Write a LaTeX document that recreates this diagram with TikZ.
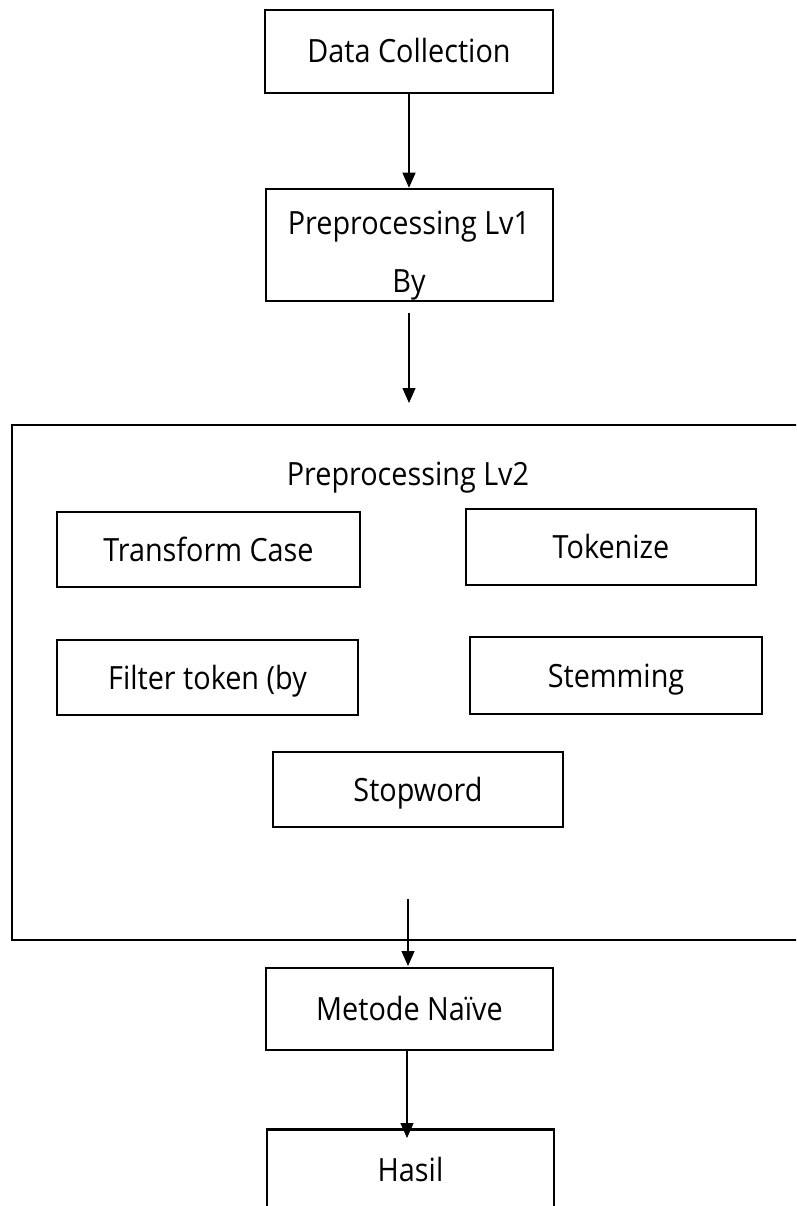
\documentclass[tikz,border=0pt]{standalone}
\usepackage{fontspec}
\setmainfont{Open Sans}[FakeStretch=0.9]
\usetikzlibrary{arrows.meta}
\begin{document}
\begin{tikzpicture}[x=1pt,y=-1pt,
  every node/.style={font=\fontsize{32}{38}\selectfont, text=black},
  boxst/.style={draw, line width=2.5pt, inner sep=0pt, text height=23pt, text depth=0pt},
  txt/.style={inner sep=0pt, anchor=base},
  arr/.style={line width=1.2pt, -{Triangle[length=15pt,width=13pt]}}
]
\useasboundingbox (0,0) rectangle (796,1206);
\clip (0,0) rectangle (796,1206);
\fill[white] (0,0) rectangle (796,1206);

% main flow boxes
\node[boxst, minimum width=288pt, minimum height=83pt] (dc) at (409,51.5) {Data Collection};
\node[boxst, minimum width=287pt, minimum height=112pt] (lv1) at (409.5,245) {};
\node[txt] (lv1a) at (409,235) {Preprocessing Lv1};
\node[txt] (lv1b) at (409,292) {By};

% big container
\node[boxst, minimum width=792pt, minimum height=515pt] (lv2) at (408,682.5) {};
\node[txt] (lv2t) at (408,485) {Preprocessing Lv2};

\node[boxst, minimum width=303pt, minimum height=75pt] (tc) at (208.5,549.5) {Transform Case};
\node[boxst, minimum width=290pt, minimum height=76pt] (tok) at (611,547) {Tokenize};
\node[boxst, minimum width=301pt, minimum height=75pt] (ft) at (207.5,677.5) {Filter token (by};
\node[boxst, minimum width=292pt, minimum height=77pt] (stem) at (616,675.5) {Stemming};
\node[boxst, minimum width=290pt, minimum height=75pt] (stop) at (418,789.5) {Stopword};

\node[boxst, minimum width=287pt, minimum height=82pt] (mn) at (409.5,1009) {Metode Na\"{\i}ve};
\node[boxst, minimum width=287pt, minimum height=82pt, anchor=north] (hasil) at (410.5,1128) {Hasil};

% connectors
\coordinate (a2s) at (409,313);
\coordinate (a2e) at (409,403);
\coordinate (a3s) at (408,899);
\coordinate (a3e) at (408,966);
\coordinate (a4e) at (407,1138);

\draw[arr] (dc.south) -- (dc.south |- lv1.north);
\draw[arr] (a2s) -- (a2e);
\draw[arr] (a3s) -- (a3e);
\draw[arr] (mn.south -| a4e) -- (a4e);
\end{tikzpicture}
\end{document}
